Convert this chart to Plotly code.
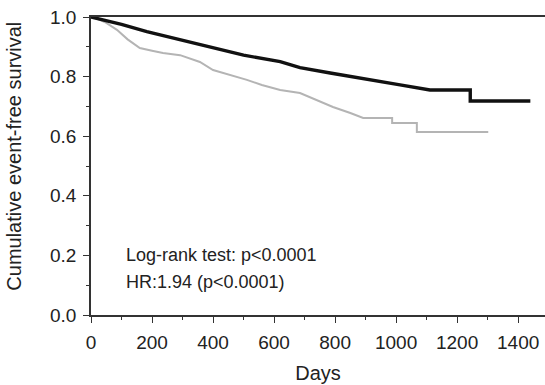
import plotly.graph_objects as go

# Group 1 (black): days and survival
days_black = [0, 30, 100, 183, 300, 400, 500, 620, 685, 784, 849, 930, 1013, 1111, 1243, 1243, 1440]
surv_black = [1.0, 0.993, 0.975, 0.951, 0.922, 0.895, 0.872, 0.850, 0.830, 0.812, 0.800, 0.787, 0.772, 0.755, 0.755, 0.718, 0.718]

# Group 2 (gray): days and survival
days_gray = [0, 20, 50, 85, 120, 160, 200, 236, 292, 357, 400, 460, 511, 560, 620, 685, 740, 793, 850, 892, 987, 987, 1068, 1068, 1302]
surv_gray = [1.0, 0.995, 0.980, 0.957, 0.925, 0.896, 0.887, 0.879, 0.872, 0.849, 0.822, 0.805, 0.789, 0.772, 0.755, 0.745, 0.722, 0.698, 0.678, 0.661, 0.661, 0.644, 0.644, 0.614, 0.614]

x_ticks = [0, 200, 400, 600, 800, 1000, 1200, 1400]
y_ticks = [0.0, 0.2, 0.4, 0.6, 0.8, 1.0]
annot_lines = ["Log-rank test: p<0.0001", "HR:1.94 (p<0.0001)"]
x_title = "Days"
y_title = "Cumulative event-free survival"

font_family = "Liberation Sans, Arial, Helvetica, sans-serif"

fig = go.Figure()
fig.add_trace(go.Scatter(x=days_gray, y=surv_gray, mode="lines",
                         line=dict(color="#b4b4b4", width=2), showlegend=False))
fig.add_trace(go.Scatter(x=days_black, y=surv_black, mode="lines",
                         line=dict(color="#111111", width=3.4), showlegend=False))

fig.add_annotation(x=0.072, y=0.2, xref="paper", yref="y", xanchor="left", yanchor="middle",
                   text=annot_lines[0], showarrow=False, font=dict(size=18, color="#222"))
fig.add_annotation(x=0.072, y=0.112, xref="paper", yref="y", xanchor="left", yanchor="middle",
                   text=annot_lines[1], showarrow=False, font=dict(size=18, color="#222"))
fig.add_annotation(x=-0.17, y=0.534, xref="paper", yref="paper", xanchor="center", yanchor="middle",
                   text=y_title, textangle=-90, showarrow=False, font=dict(size=20, color="#222"))

fig.update_layout(
    width=545, height=385,
    margin=dict(l=91, r=0, t=17, b=70),
    paper_bgcolor="white", plot_bgcolor="white",
    font=dict(family=font_family, size=18, color="#222"),
    xaxis=dict(range=[0, 1488], tickvals=x_ticks, ticks="outside", ticklen=6, tickwidth=1.2,
               tickfont=dict(size=19), ticklabelstandoff=3,
               showline=True, linecolor="#333", linewidth=1.5, mirror=True, showgrid=False,
               zeroline=False, minor=dict(dtick=100, tick0=0, ticks="outside", ticklen=3, tickcolor="#333"),
               title=dict(text=x_title, standoff=14, font=dict(size=20)), tickcolor="#333"),
    yaxis=dict(range=[0, 1.0], tickvals=y_ticks, tickformat=".1f", ticks="outside", ticklen=6,
               tickwidth=1.2, tickfont=dict(size=19), ticklabelstandoff=3,
               showline=True, linecolor="#333", linewidth=1.5,
               showgrid=False,
               zeroline=False, minor=dict(dtick=0.1, tick0=0, ticks="outside", ticklen=3, tickcolor="#333"),
               tickcolor="#333"),
)

fig.write_html("out.html")
